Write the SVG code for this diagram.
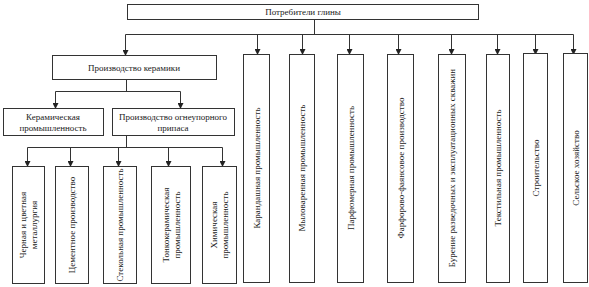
<svg xmlns="http://www.w3.org/2000/svg" width="589" height="287" viewBox="0 0 589 287">
<defs>
<style>
.box{fill:#fff;stroke:#333;stroke-width:1}
.ln{fill:none;stroke:#333;stroke-width:1}
.ar{fill:none;stroke:#333;stroke-width:1;marker-end:url(#ah)}
text{font-family:"Liberation Serif","DejaVu Serif",serif;font-size:9px;fill:#222;text-anchor:middle}
</style>
<marker id="ah" markerUnits="userSpaceOnUse" markerWidth="6" markerHeight="6" refX="5" refY="3" orient="auto">
<path d="M0,0 L6,3 L0,6 z" fill="#222"/>
</marker>
</defs>
<rect width="589" height="287" fill="#fff"/>
<g id="connectors">
<path class="ln" d="M314.5,19.5 V34.5 M125.5,34.5 H573.5"/>
<path class="ar" d="M125.5,34.5 V55"/>
<path class="ar" d="M257.5,34.5 V54"/>
<path class="ar" d="M302.5,34.5 V54"/>
<path class="ar" d="M349.5,34.5 V54"/>
<path class="ar" d="M398.5,34.5 V54"/>
<path class="ar" d="M451.5,34.5 V54"/>
<path class="ar" d="M497.5,34.5 V54"/>
<path class="ar" d="M535.5,34.5 V54"/>
<path class="ar" d="M573.5,34.5 V54"/>
<path class="ln" d="M126.5,79.5 V91.5 M55.5,91.5 H180.5"/>
<path class="ar" d="M55.5,91.5 V108"/>
<path class="ar" d="M180.5,91.5 V108"/>
<path class="ln" d="M126.5,135.5 V147.5 M27.5,147.5 H222.5"/>
<path class="ar" d="M27.5,147.5 V166"/>
<path class="ar" d="M70.5,147.5 V166"/>
<path class="ar" d="M118.5,147.5 V166"/>
<path class="ar" d="M168.5,147.5 V166"/>
<path class="ar" d="M222.5,147.5 V166"/>
</g>
<g id="root">
<rect class="box" x="127.5" y="4.5" width="351" height="15"/>
<text x="303" y="15">Потребители глины</text>
</g>
<g id="ceramics">
<rect class="box" x="52.5" y="55.5" width="164" height="24"/>
<text x="134" y="70.5">Производство керамики</text>
</g>
<g id="ceramic-industry">
<rect class="box" x="3.5" y="108.5" width="100" height="27"/>
<text x="53" y="120">Керамическая</text>
<text x="53" y="130.5">промышленность</text>
</g>
<g id="refractory">
<rect class="box" x="112.5" y="108.5" width="122" height="27"/>
<text x="173" y="120">Производство огнеупорного</text>
<text x="173" y="130.5">припаса</text>
</g>
<g id="metallurgy">
<rect class="box" x="12.5" y="166.5" width="32" height="117"/>
<text transform="translate(28.5,225) rotate(-90)" y="-5.5" dy="0.35em">Черная и цветная</text>
<text transform="translate(28.5,225) rotate(-90)" y="5.5" dy="0.35em">металлургия</text>
</g>
<g id="cement">
<rect class="box" x="55.5" y="166.5" width="33" height="117"/>
<text transform="translate(72,225) rotate(-90)" dy="0.35em">Цементное производство</text>
</g>
<g id="glass">
<rect class="box" x="103.5" y="166.5" width="33" height="117"/>
<text transform="translate(120,225) rotate(-90)" dy="0.35em">Стекольная промышленность</text>
</g>
<g id="fine-ceramics">
<rect class="box" x="151.5" y="166.5" width="39" height="117"/>
<text transform="translate(171,225) rotate(-90)" y="-5.5" dy="0.35em">Тонкокерамическая</text>
<text transform="translate(171,225) rotate(-90)" y="5.5" dy="0.35em">промышленность</text>
</g>
<g id="chemical">
<rect class="box" x="202.5" y="166.5" width="34" height="117"/>
<text transform="translate(219.5,225) rotate(-90)" y="-5.5" dy="0.35em">Химическая</text>
<text transform="translate(219.5,225) rotate(-90)" y="5.5" dy="0.35em">промышленность</text>
</g>
<g id="pencil">
<rect class="box" x="243.5" y="54.5" width="26" height="228"/>
<text transform="translate(256.5,168) rotate(-90)" dy="0.35em">Карандашная промышленность</text>
</g>
<g id="soap">
<rect class="box" x="289.5" y="54.5" width="25" height="228"/>
<text transform="translate(302,168) rotate(-90)" dy="0.35em">Мыловаренная промышленность</text>
</g>
<g id="perfume">
<rect class="box" x="337.5" y="54.5" width="26" height="228"/>
<text transform="translate(350.5,168) rotate(-90)" dy="0.35em">Парфюмерная промышленность</text>
</g>
<g id="porcelain">
<rect class="box" x="387.5" y="54.5" width="26" height="228"/>
<text transform="translate(400.5,168) rotate(-90)" dy="0.35em">Фарфорово-фаянсовое производство</text>
</g>
<g id="drilling">
<rect class="box" x="438.5" y="54.5" width="27" height="228"/>
<text transform="translate(452,168) rotate(-90)" dy="0.35em">Бурение разведочных и эксплуатационных скважин</text>
</g>
<g id="textile">
<rect class="box" x="486.5" y="54.5" width="23" height="228"/>
<text transform="translate(498,168) rotate(-90)" dy="0.35em">Текстильная промышленность</text>
</g>
<g id="construction">
<rect class="box" x="523.5" y="53.5" width="24" height="229"/>
<text transform="translate(535.5,168) rotate(-90)" dy="0.35em">Строительство</text>
</g>
<g id="agriculture">
<rect class="box" x="563.5" y="53.5" width="24" height="229"/>
<text transform="translate(575.5,168) rotate(-90)" dy="0.35em">Сельское хозяйство</text>
</g>
</svg>
